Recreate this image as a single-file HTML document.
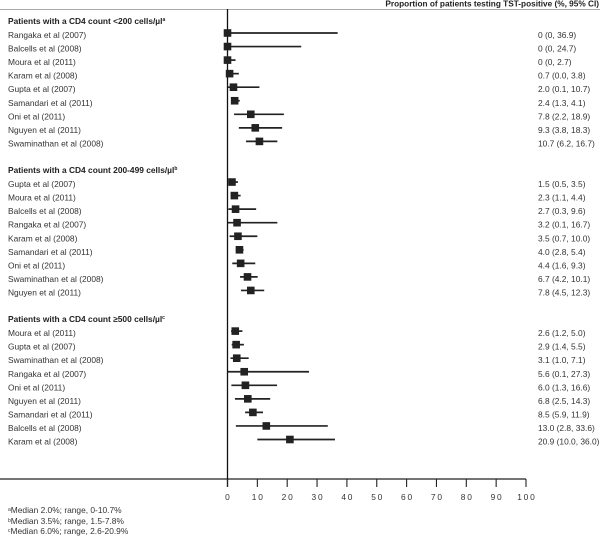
<!DOCTYPE html>
<html>
<head>
<meta charset="utf-8">
<style>
html,body{margin:0;padding:0;background:#fff;}
svg{display:block;font-family:"Liberation Sans",sans-serif;}
text{fill:#333;font-size:8.4px;}
.bold{font-weight:bold;fill:#222;}
.tick{letter-spacing:1.8px;text-anchor:middle;}
.sup{font-size:5px;}
</style>
</head>
<body>
<svg id="chart" width="600" height="536" viewBox="0 0 600 536" xmlns="http://www.w3.org/2000/svg">
  <text class="bold" x="599" y="6.5" text-anchor="end" style="font-size:8.25px">Proportion of patients testing TST-positive (%, 95% CI)</text>
  <line x1="0" y1="9.5" x2="600" y2="9.5" stroke="#aaa" stroke-width="1"/>
  <line x1="0" y1="479" x2="526" y2="479" stroke="#222" stroke-width="1.2"/>
  <line x1="227.5" y1="9" x2="227.5" y2="487" stroke="#111" stroke-width="1.3"/>
  <g id="marks"></g>
  <text x="8" y="513"><tspan class="sup" dy="-2">a</tspan><tspan dy="2">Median 2.0%; range, 0-10.7%</tspan></text>
  <text x="8" y="524"><tspan class="sup" dy="-2">b</tspan><tspan dy="2">Median 3.5%; range, 1.5-7.8%</tspan></text>
  <text x="8" y="534"><tspan class="sup" dy="-2">c</tspan><tspan dy="2">Median 6.0%; range, 2.6-20.9%</tspan></text>
</svg>
<script>
var groupTitles = ["Patients with a CD4 count <200 cells/\u00b5l", "Patients with a CD4 count 200-499 cells/\u00b5l", "Patients with a CD4 count \u2265500 cells/\u00b5l"];
var groupNotes = ["a", "b", "c"];

var studies1 = ["Rangaka et al (2007)", "Balcells et al (2008)", "Moura et al (2011)", "Karam et al (2008)", "Gupta et al (2007)", "Samandari et al (2011)", "Oni et al (2011)", "Nguyen et al (2011)", "Swaminathan et al (2008)"];
var est1 = [0, 0, 0, 0.7, 2.0, 2.4, 7.8, 9.3, 10.7];
var low1 = [0, 0, 0, 0.0, 0.1, 1.3, 2.2, 3.8, 6.2];
var high1 = [36.9, 24.7, 2.7, 3.8, 10.7, 4.1, 18.9, 18.3, 16.7];

var studies2 = ["Gupta et al (2007)", "Moura et al (2011)", "Balcells et al (2008)", "Rangaka et al (2007)", "Karam et al (2008)", "Samandari et al (2011)", "Oni et al (2011)", "Swaminathan et al (2008)", "Nguyen et al (2011)"];
var est2 = [1.5, 2.3, 2.7, 3.2, 3.5, 4.0, 4.4, 6.7, 7.8];
var low2 = [0.5, 1.1, 0.3, 0.1, 0.7, 2.8, 1.6, 4.2, 4.5];
var high2 = [3.5, 4.4, 9.6, 16.7, 10.0, 5.4, 9.3, 10.1, 12.3];

var studies3 = ["Moura et al (2011)", "Gupta et al (2007)", "Swaminathan et al (2008)", "Rangaka et al (2007)", "Oni et al (2011)", "Nguyen et al (2011)", "Samandari et al (2011)", "Balcells et al (2008)", "Karam et al (2008)"];
var est3 = [2.6, 2.9, 3.1, 5.6, 6.0, 6.8, 8.5, 13.0, 20.9];
var low3 = [1.2, 1.4, 1.0, 0.1, 1.3, 2.5, 5.9, 2.8, 10.0];
var high3 = [5.0, 5.5, 7.1, 27.3, 16.6, 14.3, 11.9, 33.6, 36.0];

var tickValues = [0, 10, 20, 30, 40, 50, 60, 70, 80, 90, 100];

var NS = "http://www.w3.org/2000/svg";
var root = document.getElementById("marks");

function xScale(v) { return 227.5 + v * 2.985; }
function yRow(group, i) { return 33 + 13.55 * (group * 11 + i); }
function fmt(e, l, h) {
  if (e === 0) { return "0 (0, " + h.toFixed(1) + ")"; }
  return e.toFixed(1) + " (" + l.toFixed(1) + ", " + h.toFixed(1) + ")";
}
function make(tag, attrs, txt) {
  var el = document.createElementNS(NS, tag);
  for (var k in attrs) { el.setAttribute(k, attrs[k]); }
  if (txt !== undefined) { el.textContent = txt; }
  root.appendChild(el);
  return el;
}

function drawGroup(g, studies, est, low, high) {
  var head = make("text", {x: 8, y: yRow(g, 0) - 9, "class": "bold"}, groupTitles[g]);
  
  
  var note = document.createElementNS(NS, "tspan");
  note.setAttribute("class", "sup");
  note.setAttribute("dy", "-3");
  note.textContent = groupNotes[g];
  head.appendChild(note);

  for (var i = 0; i < studies.length; i++) {
    var y = yRow(g, i);
    var label = make("text", {x: 8, y: y + 5}, studies[i]);
    
    

    var ci = make("line", {x1: xScale(low[i]), x2: xScale(high[i]), y1: y, y2: y, stroke: "#222", "stroke-width": 1.7});
    
    

    var box = make("rect", {x: xScale(est[i]) - 3.8, y: y - 3.8, width: 7.6, height: 7.6, fill: "#222"});
    
    

    var val = make("text", {x: 538, y: y + 5}, fmt(est[i], low[i], high[i]));
    
    
  }
}

drawGroup(0, studies1, est1, low1, high1);
drawGroup(1, studies2, est2, low2, high2);
drawGroup(2, studies3, est3, low3, high3);

tickValues.forEach(function (t) {
  var mark = make("line", {x1: xScale(t), x2: xScale(t), y1: 479, y2: 487, stroke: "#222", "stroke-width": 1.1});
  
  

  var lab = make("text", {x: xScale(t) + 0.9, y: 500, "class": "tick"}, String(t));
  
  
});
</script>
</body>
</html>
